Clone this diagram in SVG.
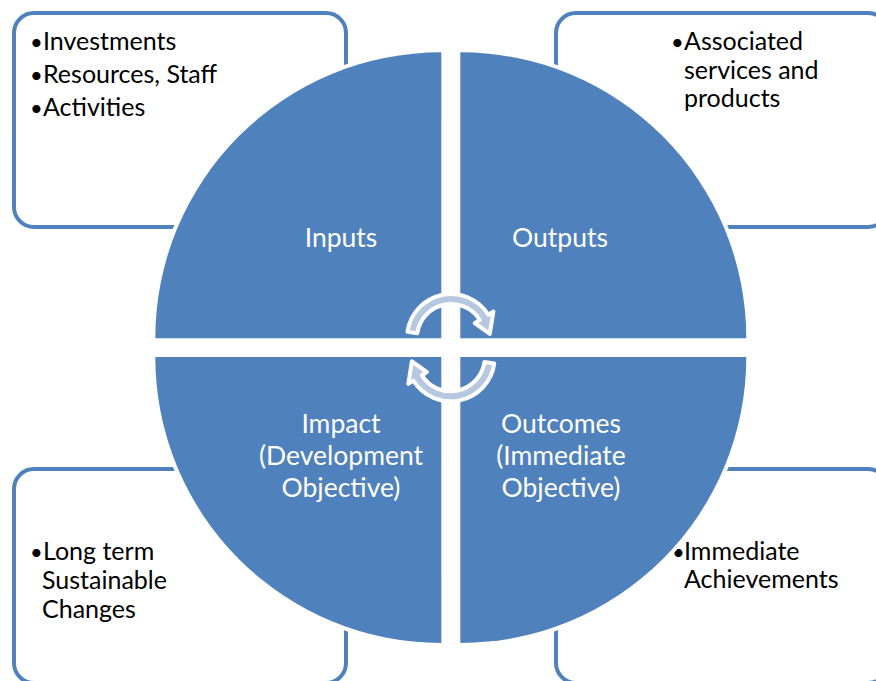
<svg xmlns="http://www.w3.org/2000/svg" width="876" height="681" viewBox="0 0 876 681">
  <style>
    .box { fill: #FFFFFF; stroke: #4F81BD; stroke-width: 4; }
    .quad { fill: #4F81BD; stroke: #FFFFFF; stroke-width: 8; paint-order: stroke; }
    .note { font-family: Lato, "Liberation Sans", sans-serif; font-size: 25px; fill: #000000; }
    .bul { font-family: Lato, "Liberation Sans", sans-serif; font-size: 22px; fill: #000000; }
    .label { font-family: Lato, "Liberation Sans", sans-serif; font-size: 26.5px; fill: #FFFFFF; text-anchor: middle; }
    .arrow { fill: #B8C7E0; stroke: #FFFFFF; stroke-width: 4; stroke-linejoin: round; }
  </style>
  <defs>
    <path id="cyc" d="M-43.57,-6.12 A44,44 0 0 1 37.31,-23.32 L42.40,-26.50 L38.79,-4.08 L23.74,-14.84 L28.83,-18.02 A34,34 0 0 0 -33.67,-4.73 Z"/>
  </defs>
  <rect width="876" height="681" fill="#FFFFFF"/>

  <g id="box-inputs">
    <rect class="box" x="14" y="13" width="332" height="214" rx="20"/>
    <text class="bul" x="30" y="50">•</text>
    <text class="note" x="43" y="50">Investments</text>
    <text class="bul" x="30" y="83">•</text>
    <text class="note" x="43" y="83">Resources, Staff</text>
    <text class="bul" x="30" y="116">•</text>
    <text class="note" x="43" y="116">Activities</text>
  </g>
  <g id="box-outputs">
    <rect class="box" x="556" y="13" width="332" height="214" rx="20"/>
    <text class="bul" x="671" y="50">•</text>
    <text class="note" x="684" y="50">Associated</text>
    <text class="note" x="684" y="78.5">services and</text>
    <text class="note" x="684" y="107">products</text>
  </g>
  <g id="box-impact">
    <rect class="box" x="14" y="469" width="332" height="214" rx="20"/>
    <text class="bul" x="30" y="560">•</text>
    <text class="note" x="43" y="560">Long term</text>
    <text class="note" x="42" y="589">Sustainable</text>
    <text class="note" x="42" y="618">Changes</text>
  </g>
  <g id="box-outcomes">
    <rect class="box" x="556" y="469" width="332" height="214" rx="20"/>
    <text class="bul" x="672" y="560">•</text>
    <text class="note" x="684" y="560">Immediate</text>
    <text class="note" x="684" y="588">Achievements</text>
  </g>

  <g id="node-inputs">
    <path class="quad" d="M441.3,338.3 H155.3 A286,286 0 0 1 441.3,52.3 Z"/>
    <text class="label" x="341" y="247">Inputs</text>
  </g>
  <g id="node-outputs">
    <path class="quad" d="M460.3,338.3 V52.3 A286,286 0 0 1 746.3,338.3 Z"/>
    <text class="label" x="560" y="247">Outputs</text>
  </g>
  <g id="node-outcomes">
    <path class="quad" d="M460.3,357 H746.3 A286,286 0 0 1 460.3,643 Z"/>
    <text class="label" x="561" y="433">Outcomes</text>
    <text class="label" x="561" y="465">(Immediate</text>
    <text class="label" x="561" y="497">Objective)</text>
  </g>
  <g id="node-impact">
    <path class="quad" d="M441.3,357 V643 A286,286 0 0 1 155.3,357 Z"/>
    <text class="label" x="341" y="433">Impact</text>
    <text class="label" x="341" y="465">(Development</text>
    <text class="label" x="341" y="497">Objective)</text>
  </g>

  <g id="connectors">
    <use href="#cyc" class="arrow" transform="translate(451,338)"/>
    <use href="#cyc" class="arrow" transform="translate(450.7,357.3) rotate(180)"/>
  </g>
</svg>
